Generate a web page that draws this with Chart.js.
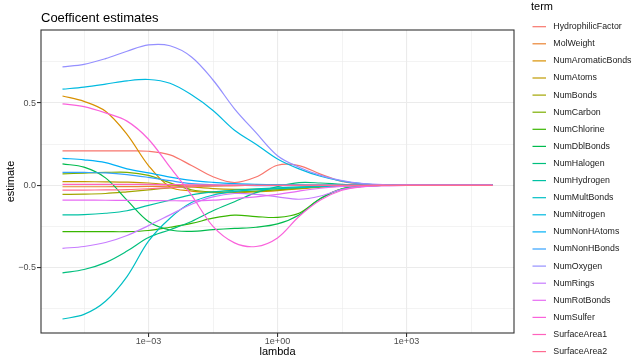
<!DOCTYPE html>
<html>
<head>
<meta charset="utf-8">
<script src="https://cdn.jsdelivr.net/npm/chart.js@4"></script>
<style>
  html, body { margin: 0; padding: 0; background: #ffffff; }
  canvas { display: block; }
</style>
</head>
<body>
<canvas id="myChart" width="632" height="357"></canvas>
<script>
// lambda grid (half decades from 1e-05 to 1e+03, then whole decades)
const lambda = [1e-5, 3.162e-5, 1e-4, 3.162e-4, 1e-3, 3.162e-3, 1e-2, 3.162e-2, 0.1, 0.3162,
                1, 3.162, 10, 31.62, 100, 316.2, 1000, 1e4, 1e5];

const terms = ["HydrophilicFactor", "MolWeight", "NumAromaticBonds", "NumAtoms", "NumBonds",
               "NumCarbon", "NumChlorine", "NumDblBonds", "NumHalogen", "NumHydrogen",
               "NumMultBonds", "NumNitrogen", "NumNonHAtoms", "NumNonHBonds", "NumOxygen",
               "NumRings", "NumRotBonds", "NumSulfer", "SurfaceArea1", "SurfaceArea2"];

// ggplot hue palette, 20 levels
const termColors = ["#F8766D", "#EA8331", "#D89000", "#C09B00", "#A3A500", "#7CAE00", "#39B600",
                    "#00BB4E", "#00BF7D", "#00C1A3", "#00BFC4", "#00BAE0", "#00B0F6", "#35A2FF",
                    "#9590FF", "#C77CFF", "#E76BF3", "#FA62DB", "#FF62BC", "#FF6C91"];

// coefficient paths, one value per lambda
const hydrophilicFactor = [0.209, 0.209, 0.209, 0.209, 0.207, 0.185, 0.12, 0.052, 0.017, 0.05, 0.122, 0.12, 0.068, 0.024, 0.007, 0.002, 0, 0, 0];
const molWeight         = [-0.009, -0.009, -0.009, -0.008, -0.007, -0.005, -0.003, -0.002, -0.001, 0, 0, 0, 0, 0, 0, 0, 0, 0, 0];
const numAromaticBonds  = [0.543, 0.51, 0.45, 0.31, 0.12, -0.01, -0.035, -0.045, -0.045, -0.04, -0.032, -0.022, -0.012, -0.005, -0.002, 0, 0, 0, 0];
const numAtoms          = [0.022, 0.022, 0.021, 0.019, 0.014, 0.003, -0.01, -0.02, -0.025, -0.025, -0.022, -0.016, -0.009, -0.004, -0.001, 0, 0, 0, 0];
const numBonds          = [-0.055, -0.054, -0.05, -0.04, -0.028, -0.016, -0.008, -0.004, -0.002, -0.001, 0, 0, 0, 0, 0, 0, 0, 0, 0];
const numCarbon         = [0.069, 0.074, 0.078, 0.079, 0.06, 0.015, -0.027, -0.04, -0.04, -0.036, -0.028, -0.018, -0.009, -0.004, -0.001, 0, 0, 0, 0];
const numChlorine       = [-0.282, -0.282, -0.282, -0.282, -0.275, -0.255, -0.232, -0.2, -0.182, -0.19, -0.195, -0.17, -0.08, -0.022, -0.006, -0.001, 0, 0, 0];
const numDblBonds       = [0.13, 0.11, 0.045, -0.09, -0.22, -0.272, -0.28, -0.27, -0.262, -0.255, -0.235, -0.18, -0.08, -0.022, -0.006, -0.001, 0, 0, 0];
const numHalogen        = [-0.532, -0.512, -0.47, -0.4, -0.317, -0.27, -0.22, -0.155, -0.1, -0.045, -0.008, 0.016, 0.014, 0.006, 0.002, 0, 0, 0, 0];
const numHydrogen       = [-0.18, -0.178, -0.17, -0.155, -0.122, -0.09, -0.058, -0.04, -0.03, -0.022, -0.015, -0.01, -0.005, -0.002, 0, 0, 0, 0, 0];
const numMultBonds      = [-0.813, -0.785, -0.705, -0.555, -0.34, -0.2, -0.105, -0.06, -0.038, -0.027, -0.02, -0.014, -0.008, -0.003, -0.001, 0, 0, 0, 0];
const numNitrogen       = [0.584, 0.597, 0.615, 0.635, 0.643, 0.62, 0.55, 0.455, 0.335, 0.25, 0.16, 0.1, 0.055, 0.025, 0.009, 0.002, 0, 0, 0];
const numNonHAtoms      = [0.164, 0.155, 0.138, 0.1, 0.075, 0.05, 0.03, 0.018, 0.01, 0.006, 0.004, 0.002, 0.001, 0, 0, 0, 0, 0, 0];
const numNonHBonds      = [0.079, 0.078, 0.075, 0.065, 0.048, 0.028, 0.01, 0.003, 0, -0.002, -0.002, -0.001, 0, 0, 0, 0, 0, 0, 0];
const numOxygen         = [0.72, 0.735, 0.77, 0.815, 0.853, 0.848, 0.78, 0.64, 0.465, 0.32, 0.18, 0.11, 0.06, 0.028, 0.01, 0.003, 0.001, 0, 0];
const numRings          = [-0.383, -0.372, -0.348, -0.305, -0.245, -0.18, -0.115, -0.07, -0.05, -0.055, -0.07, -0.085, -0.065, -0.025, -0.008, -0.002, 0, 0, 0];
const numRotBonds       = [-0.09, -0.09, -0.091, -0.092, -0.093, -0.094, -0.094, -0.09, -0.08, -0.07, -0.055, -0.035, -0.018, -0.007, -0.002, 0, 0, 0, 0];
const numSulfer         = [0.495, 0.478, 0.44, 0.39, 0.28, 0.11, -0.06, -0.25, -0.35, -0.372, -0.32, -0.19, -0.09, -0.03, -0.008, -0.002, 0, 0, 0];
const surfaceArea1      = [0.006, 0.006, 0.006, 0.006, 0.005, 0.004, 0.003, 0.002, 0.001, 0, 0, 0, 0, 0, 0, 0, 0, 0, 0];
const surfaceArea2      = [-0.029, -0.029, -0.028, -0.026, -0.021, -0.014, -0.008, -0.004, -0.002, -0.001, 0, 0, 0, 0, 0, 0, 0, 0, 0];

const estimates = [hydrophilicFactor, molWeight, numAromaticBonds, numAtoms, numBonds, numCarbon,
                   numChlorine, numDblBonds, numHalogen, numHydrogen, numMultBonds, numNitrogen,
                   numNonHAtoms, numNonHBonds, numOxygen, numRings, numRotBonds, numSulfer,
                   surfaceArea1, surfaceArea2];

// axis breaks
const xMajor = [1e-3, 1, 1e3];
const xMajorLabels = ["1e\u221203", "1e+00", "1e+03"];
const xMinor = [3.162e-5, 0.03162, 31.62, 31623];
const yMajor = [-0.5, 0, 0.5];
const yMajorLabels = ["\u22120.5", "0.0", "0.5"];
const yMinor = [-0.75, -0.25, 0.25, 0.75];

const FONT = "'Liberation Sans', Arial, sans-serif";
Chart.defaults.font.family = FONT;

function isMajor(list, v) {
    return list.some(m => Math.abs(m - v) < 1e-9 * Math.max(1, Math.abs(m)));
}

// title, panel border and the legend, drawn like ggplot's theme_bw
const ggDecor = {
    id: 'ggDecor',
    beforeDraw(chart) {
        const ctx = chart.ctx;
        ctx.save();
        ctx.fillStyle = '#ffffff';
        ctx.fillRect(0, 0, chart.width, chart.height);
        ctx.restore();
    },
    afterDatasetsDraw(chart) {
        const a = chart.chartArea;
        const ctx = chart.ctx;
        ctx.save();
        ctx.strokeStyle = '#333333';
        ctx.lineWidth = 1.1;
        ctx.strokeRect(a.left, a.top, a.right - a.left, a.bottom - a.top);
        ctx.restore();
    },
    afterDraw(chart) {
        const ctx = chart.ctx;
        ctx.save();
        ctx.fillStyle = '#000000';
        ctx.textAlign = 'left';
        ctx.textBaseline = 'alphabetic';
        ctx.font = "13px " + FONT;
        ctx.fillText("Coefficent estimates", chart.chartArea.left, 21.5);

        ctx.font = "11px " + FONT;
        ctx.fillText("term", 531, 10);

        ctx.font = "8.8px " + FONT;
        ctx.textBaseline = 'middle';
        chart.data.datasets.forEach((ds, i) => {
            const y = 26.7 + i * 17.1;
            ctx.strokeStyle = ds.borderColor;
            ctx.lineWidth = 1.2;
            ctx.beginPath();
            ctx.moveTo(532.5, y);
            ctx.lineTo(546, y);
            ctx.stroke();
            ctx.fillStyle = '#1a1a1a';
            ctx.fillText(ds.label, 553.3, y);
        });
        ctx.restore();
    }
};

new Chart(document.getElementById('myChart'), {
    type: 'line',
    data: {
        datasets: terms.map((t, i) => ({
            label: t,
            data: lambda.map((l, j) => ({ x: l, y: estimates[i][j] })),
            borderColor: termColors[i],
            backgroundColor: termColors[i],
            borderWidth: 1.2,
            pointRadius: 0,
            tension: 0.35,
            order: terms.length - i
        }))
    },
    options: {
        responsive: false,
        animation: false,
        layout: { padding: { top: 30, right: 118, bottom: 0, left: 0 } },
        plugins: {
            legend: { display: false },
            title: { display: false },
            tooltip: { enabled: false }
        },
        scales: {
            x: {
                type: 'logarithmic',
                min: 3.162e-6,
                max: 3.162e5,
                afterBuildTicks: s => {
                    s.ticks = xMinor.concat(xMajor).sort((a, b) => a - b).map(v => ({ value: v }));
                },
                afterFit: s => { s.height = 24; },
                border: { display: false },
                grid: {
                    color: '#ebebeb',
                    lineWidth: c => isMajor(xMajor, c.tick.value) ? 1.1 : 0.6,
                    tickColor: c => isMajor(xMajor, c.tick.value) ? '#333333' : 'rgba(0,0,0,0)',
                    tickWidth: 1.1,
                    tickLength: 4
                },
                ticks: {
                    autoSkip: false,
                    maxRotation: 0,
                    padding: 0,
                    color: '#4d4d4d',
                    font: { size: 9, lineHeight: 1 },
                    callback: v => {
                        const k = xMajor.findIndex(m => Math.abs(m - v) < 1e-9 * m);
                        return k >= 0 ? xMajorLabels[k] : '';
                    }
                },
                title: {
                    display: true,
                    text: 'lambda',
                    color: '#000000',
                    font: { size: 11, lineHeight: 1 },
                    padding: { top: 0, bottom: 0 }
                }
            },
            y: {
                type: 'linear',
                min: -0.898,
                max: 0.944,
                afterBuildTicks: s => {
                    s.ticks = yMinor.concat(yMajor).sort((a, b) => a - b).map(v => ({ value: v }));
                },
                afterFit: s => { s.width = 41; },
                border: { display: false },
                grid: {
                    color: '#ebebeb',
                    lineWidth: c => isMajor(yMajor, c.tick.value) ? 1.1 : 0.6,
                    tickColor: c => isMajor(yMajor, c.tick.value) ? '#333333' : 'rgba(0,0,0,0)',
                    tickWidth: 1.1,
                    tickLength: 4
                },
                ticks: {
                    autoSkip: false,
                    padding: 1,
                    color: '#4d4d4d',
                    font: { size: 9, lineHeight: 1 },
                    callback: v => {
                        const k = yMajor.findIndex(m => Math.abs(m - v) < 1e-9);
                        return k >= 0 ? yMajorLabels[k] : '';
                    }
                },
                title: {
                    display: true,
                    text: 'estimate',
                    color: '#000000',
                    font: { size: 11, lineHeight: 1 },
                    padding: { top: 5.5, bottom: 0 }
                }
            }
        }
    },
    plugins: [ggDecor]
});
</script>
</body>
</html>
